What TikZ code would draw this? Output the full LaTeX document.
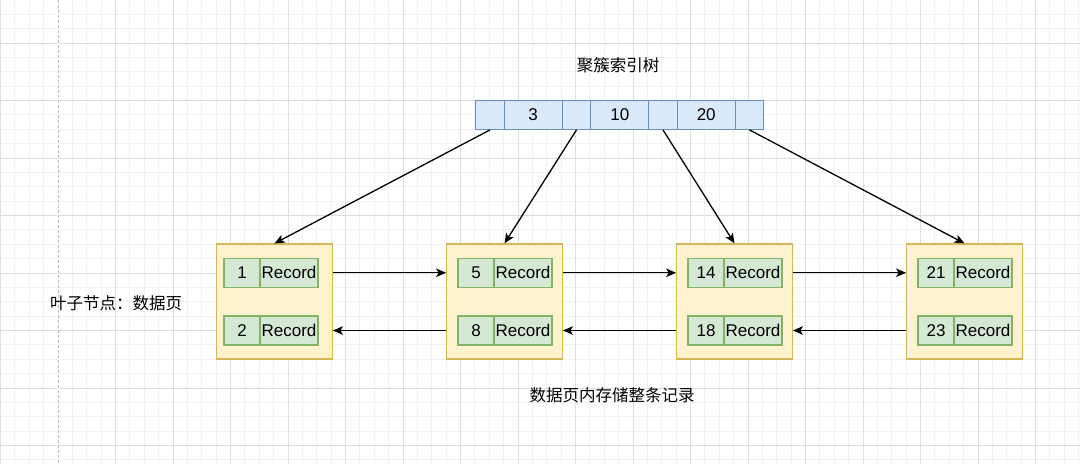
\documentclass[tikz,border=0pt]{standalone}
\usepackage{fontspec}
\setmainfont{Liberation Sans}
\newfontfamily\cjk{Noto Sans CJK SC}
\usetikzlibrary{arrows.meta}
\definecolor{bluefill}{HTML}{DAE8FC}
\definecolor{bluedraw}{HTML}{6C8EBF}
\definecolor{pagefill}{HTML}{FFF2CC}
\definecolor{pagedraw}{HTML}{D6B656}
\definecolor{recfill}{HTML}{D5E8D4}
\definecolor{recdraw}{HTML}{82B366}
\definecolor{gridminor}{HTML}{F1F1F1}
\definecolor{gridmajor}{HTML}{DDDDDD}
\definecolor{pageline}{HTML}{B8B8B8}
\begin{document}
\begin{tikzpicture}[x=1pt,y=-1pt,
  every node/.style={font=\fontsize{17}{20}\selectfont, inner sep=0pt},
  topcell/.style={draw=bluedraw, fill=bluefill, line width=1.2pt, minimum height=28.6pt},
  smallcell/.style={topcell, minimum width=28.5pt},
  keycell/.style={topcell, minimum width=58pt},
  pagebox/.style={draw=pagedraw, fill=pagefill, line width=1.2pt, minimum width=115.6pt, minimum height=115pt},
  reckey/.style={draw=recdraw, fill=recfill, line width=1.2pt, minimum width=36pt, minimum height=29pt},
  recval/.style={draw=recdraw, fill=recfill, line width=1.2pt, minimum width=58pt, minimum height=29pt},
  label/.style={font=\cjk\fontsize{16.5}{20}\selectfont},
  link/.style={draw=black, line width=1.3pt, -{Stealth[length=10pt,width=8.5pt,inset=2.5pt]}}]
% background and grid
\fill[white] (0,0) rectangle (1080,464);
\useasboundingbox (0,0) rectangle (1080,464);
\foreach \i in {0,...,75} {\draw[gridminor, line width=0.8pt] ({58+14.375*(\i-4)},0) -- ++(0,464);}
\foreach \i in {0,...,33} {\draw[gridminor, line width=0.8pt] (0,{43+14.375*(\i-3)}) -- ++(1080,0);}
\foreach \i in {-1,...,18} {\draw[gridmajor, line width=0.9pt] ({58+57.5*\i},0) -- ++(0,464);}
\foreach \i in {-1,...,8} {\draw[gridmajor, line width=0.9pt] (0,{43+57.5*\i}) -- ++(1080,0);}
\fill[white] (57,0) rectangle (59,464);
\draw[pageline, line width=1pt, dash pattern=on 3pt off 2pt] (58,0) -- (58,464);
% titles
\node[label] (title) at (618,65) {聚簇索引树};
\node[label] (leaflbl) at (116,303) {叶子节点：数据页};
\node[label] (datalbl) at (612,395) {数据页内存储整条记录};
% root node
\node[smallcell] (t0) at (490,115) {};
\node[keycell]   (t1) at (533.2,115) {3};
\node[smallcell] (t2) at (576.5,115) {};
\node[keycell]   (t3) at (619.8,115) {10};
\node[smallcell] (t4) at (663,115) {};
\node[keycell]   (t5) at (706.2,115) {20};
\node[smallcell] (t6) at (749.5,115) {};
% leaf pages
\node[pagebox] (p1) at (274.5,301.5) {};
\node[pagebox] (p2) at (504.5,301.5) {};
\node[pagebox] (p3) at (734.5,301.5) {};
\node[pagebox] (p4) at (964.5,301.5) {};
% records
\node[reckey] (k1a) at (242,272.8) {1};
\node[recval] (v1a) at (289,272.8) {Record};
\node[reckey] (k1b) at (242,330.5) {2};
\node[recval] (v1b) at (289,330.5) {Record};
\node[reckey] (k2a) at (476,272.8) {5};
\node[recval] (v2a) at (523,272.8) {Record};
\node[reckey] (k2b) at (476,330.5) {8};
\node[recval] (v2b) at (523,330.5) {Record};
\node[reckey] (k3a) at (706,272.8) {14};
\node[recval] (v3a) at (753,272.8) {Record};
\node[reckey] (k3b) at (706,330.5) {18};
\node[recval] (v3b) at (753,330.5) {Record};
\node[reckey] (k4a) at (936,272.8) {21};
\node[recval] (v4a) at (983,272.8) {Record};
\node[reckey] (k4b) at (936,330.5) {23};
\node[recval] (v4b) at (983,330.5) {Record};
% tree links
\draw[link] (t0.south) -- (p1.north);
\draw[link] (t2.south) -- (p2.north);
\draw[link] (t4.south) -- (p3.north);
\draw[link] (t6.south) -- (p4.north);
% page chain
\draw[link] (p1.east |- k1a.center) -- (p2.west |- k1a.center);
\draw[link] (p2.east |- k2a.center) -- (p3.west |- k2a.center);
\draw[link] (p3.east |- k3a.center) -- (p4.west |- k3a.center);
\draw[link] (p2.west |- k1b.center) -- (p1.east |- k1b.center);
\draw[link] (p3.west |- k2b.center) -- (p2.east |- k2b.center);
\draw[link] (p4.west |- k3b.center) -- (p3.east |- k3b.center);
\end{tikzpicture}
\end{document}
